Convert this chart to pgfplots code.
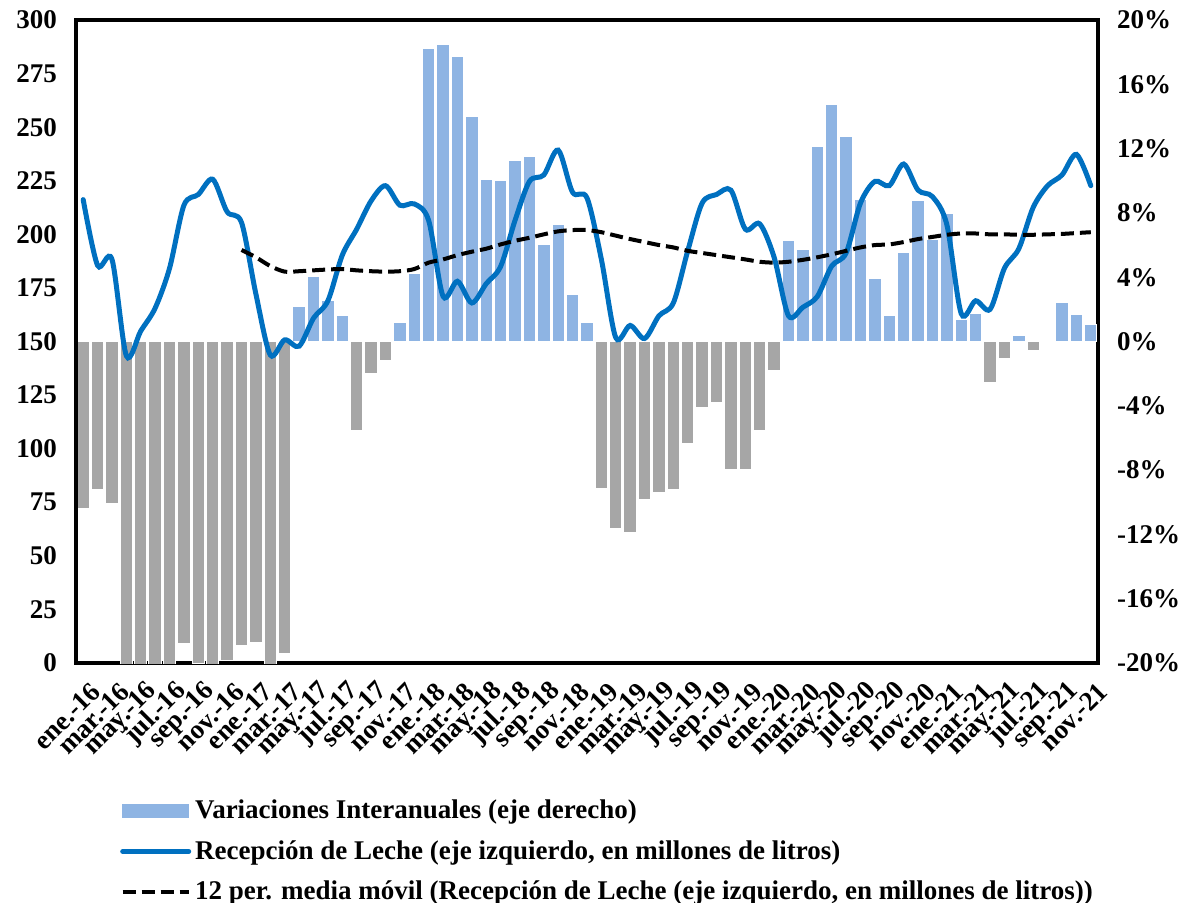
\documentclass[border=0pt]{standalone}
\usepackage{fontspec}
\setmainfont{Liberation Serif}
\usepackage{pgfplots}
\pgfplotsset{compat=1.18}

\definecolor{barblue}{RGB}{142,180,227}
\definecolor{bargray}{RGB}{166,166,166}
\definecolor{lineblue}{RGB}{0,112,192}

\begin{document}
\begin{tikzpicture}[font=\fontsize{13.5}{16}\selectfont\bfseries]
\useasboundingbox (-38pt,-119.5pt) rectangle (554pt,331.5pt);
% variaciones interanuales, eje derecho
\begin{axis}[
  width=511pt, height=321.5pt, scale only axis,
  xmin=-0.5, xmax=70.5, ymin=-20, ymax=20,
  ybar, bar width=0.86, bar shift=0pt,
  axis line style={line width=2pt},
  major tick length=0pt,
  ytick={-20,-16,...,20},
  yticklabels={-20\%,-16\%,-12\%,-8\%,-4\%,0\%,4\%,8\%,12\%,16\%,20\%},
  yticklabel pos=right,
  yticklabel style={xshift=6pt},
  xtick={0,2,...,70},
  xticklabels={ene.-16,mar.-16,may.-16,jul.-16,sep.-16,nov.-16,
               ene.-17,mar.-17,may.-17,jul.-17,sep.-17,nov.-17,
               ene.-18,mar.-18,may.-18,jul.-18,sep.-18,nov.-18,
               ene.-19,mar.-19,may.-19,jul.-19,sep.-19,nov.-19,
               ene.-20,mar.-20,may.-20,jul.-20,sep.-20,nov.-20,
               ene.-21,mar.-21,may.-21,jul.-21,sep.-21,nov.-21},
  xticklabel style={rotate=45, anchor=east, inner sep=1pt, xshift=-3pt, yshift=-13pt},
]
\addplot[fill=barblue, draw=white, line width=0.5pt] coordinates {
  (15,2.16) (16,4.05) (17,2.56) (18,1.62)
  (22,1.21) (23,4.26) (24,18.2) (25,18.5) (26,17.7) (27,13.98) (28,10.07)
  (29,9.99) (30,11.28) (31,11.52) (32,6.02) (33,7.29) (34,2.91) (35,1.16)
  (49,6.26) (50,5.75) (51,12.15) (52,14.76) (53,12.74) (54,8.85) (55,3.94)
  (56,1.62) (57,5.51) (58,8.77) (59,6.32) (60,7.96) (61,1.40) (62,1.75)
  (65,0.35) (68,2.40) (69,1.67) (70,1.03)
};
\addplot[fill=bargray, draw=white, line width=0.5pt] coordinates {
  (0,-10.4) (1,-9.2) (2,-10.1) (3,-21) (4,-21) (5,-21) (6,-21) (7,-18.8)
  (8,-20.05) (9,-21) (10,-19.85) (11,-18.9) (12,-18.7) (13,-21) (14,-19.4)
  (19,-5.53) (20,-1.97) (21,-1.21)
  (36,-9.12) (37,-11.66) (38,-11.88) (39,-9.85) (40,-9.39) (41,-9.18)
  (42,-6.32) (43,-4.10) (44,-3.78) (45,-7.96) (46,-7.96) (47,-5.53) (48,-1.78)
  (63,-2.56) (64,-1.08) (66,-0.54)
};
\end{axis}
% recepcion de leche, eje izquierdo
\begin{axis}[
  width=511pt, height=321.5pt, scale only axis,
  xmin=-0.5, xmax=70.5, ymin=0, ymax=300,
  axis x line=none, axis y line*=left,
  axis line style={line width=2pt},
  major tick length=0pt,
  ytick={0,25,...,300},
  /pgf/number format/assume math mode=true,
  yticklabel style={xshift=-6pt},
  legend style={at={(axis description cs:0.037,-0.2)}, anchor=north west,
    draw=none, fill=none, legend cell align=left, row sep=5.4pt,
    font=\fontsize{13.5}{16}\selectfont\bfseries},
  legend image code/.code={\draw[#1] (0pt,0pt) -- (33pt,0pt);},
]
\addlegendimage{legend image code/.code={\fill[barblue] (0pt,-3.2pt) rectangle (33pt,3.2pt);}}
\addlegendentry{Variaciones Interanuales (eje derecho)}
\addplot[lineblue, line width=2.5pt, line cap=round, smooth] coordinates {
  (0,216.2) (1,185.5) (2,188.3) (3,143.3) (4,154.9) (5,165.6) (6,184.2)
  (7,213.6) (8,218.6) (9,225.7) (10,210.5) (11,205.5) (12,172.1) (13,143.7)
  (14,150.8) (15,147.8) (16,160.9) (17,169.0) (18,190.3) (19,202.4) (20,215.6)
  (21,222.7) (22,213.6) (23,214.2) (24,206.5) (25,171.1) (26,178.1) (27,168)
  (28,177) (29,185) (30,206.5) (31,224.7) (32,227.7) (33,239.3) (34,219.6)
  (35,217) (36,188.3) (37,151.8) (38,157.5) (39,151.4) (40,162) (41,168)
  (42,192.3) (43,214.6) (44,218.6) (45,220.6) (46,202.4) (47,204.9) (48,189.3)
  (49,162) (50,166) (51,171) (52,185.2) (53,191.3) (54,214.6) (55,224.7)
  (56,222.7) (57,232.8) (58,220.6) (59,217.6) (60,204.5) (61,163.0) (62,169.0)
  (63,165.0) (64,184.2) (65,193.3) (66,212.6) (67,222.7) (68,227.7) (69,237.3)
  (70,222.7)
};
\addlegendentry{Recepción de Leche (eje izquierdo, en millones de litros)}
\addplot[black, line width=2pt, dash pattern=on 6.5pt off 3pt, smooth] coordinates {
  (11,192.7) (12,189.3) (13,185.2) (14,182.6) (15,182.8) (16,183.2) (17,183.6)
  (18,183.8) (19,183.2) (20,182.8) (21,182.6) (22,182.8) (23,183.8) (24,186.8)
  (25,188.3) (26,190.3) (27,191.9) (28,193.3) (29,195.3) (30,197) (31,198.4)
  (32,200) (33,201.4) (34,202) (35,202) (36,201) (37,199.4) (38,197.8)
  (39,196.4) (40,195) (41,193.9) (42,192.3) (43,191.3) (44,190.3) (45,189.3)
  (46,188.3) (47,187.2) (48,186.8) (49,187.2) (50,188.1) (51,189.3) (52,190.7)
  (53,192.3) (54,193.9) (55,195) (56,195.3) (57,196.4) (58,197.8) (59,198.8)
  (60,199.8) (61,200.4) (62,200.4) (63,200) (64,200) (65,199.8) (66,199.8)
  (67,200) (68,200.2) (69,200.6) (70,201)
};
\addlegendentry{12 per. media móvil (Recepción de Leche (eje izquierdo, en millones de litros))}
\end{axis}
\end{tikzpicture}
\end{document}
